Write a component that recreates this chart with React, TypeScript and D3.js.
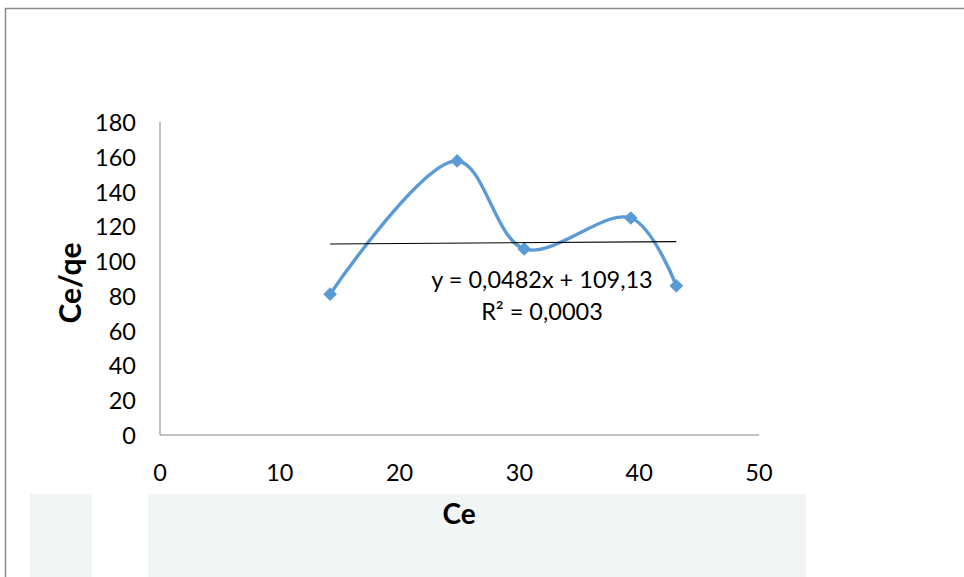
import React from "react";
import * as d3 from "d3";

const ceValues = [14.2, 24.8, 30.4, 39.3, 43.1];
const ceQeValues = [81, 157.6, 107, 124.8, 85.8];
const xTicks = [0, 10, 20, 30, 40, 50];
const yTicks = [0, 20, 40, 60, 80, 100, 120, 140, 160, 180];
const trendSlope = 0.0482;
const trendIntercept = 109.13;
const equationText = "y = 0,0482x + 109,13";
const r2Text = "R² = 0,0003";
const xTitle = "Ce";
const yTitle = "Ce/qe";

const W = 964;
const H = 577;
const FONT = "Lato, 'Open Sans', sans-serif";

export default function App() {
  const x = d3.scaleLinear().domain([0, 50]).range([160, 759]);
  const y = d3.scaleLinear().domain([0, 180]).range([435, 122]);
  const pts = ceValues.map((v, i) => [v, ceQeValues[i]] as [number, number]);
  const line = d3
    .line<[number, number]>()
    .x((d) => x(d[0]))
    .y((d) => y(d[1]))
    .curve(d3.curveCatmullRom.alpha(0.5));
  const xMin = d3.min(ceValues)!;
  const xMax = d3.max(ceValues)!;
  const diamond = d3.symbol().type(d3.symbolDiamond2).size(120)();

  return (
    <svg
      width={W}
      height={H}
      style={{ position: "absolute", left: 0, top: 0, background: "#fff" }}
    >
      <rect x={0} y={0} width={W} height={H} fill="#ffffff" />
      {/* faint background band */}
      <rect x={30} y={494} width={62} height={83} fill="#f1f5f3" />
      <rect x={148} y={494} width={658} height={83} fill="#f1f5f3" />
      {/* frame */}
      <path d={`M5.5,${H} V8.5 H${W}`} fill="none" stroke="#8c8c8c" strokeWidth={1.5} />

      {/* axes */}
      <line x1={x(0)} x2={x(0)} y1={y(180)} y2={y(0)} stroke="#868686" strokeWidth={1} />
      <line x1={x(0)} x2={x(50)} y1={y(0)} y2={y(0)} stroke="#868686" strokeWidth={1} />

      {yTicks.map((t) => (
        <text
          key={"y" + t}
          x={136}
          y={y(t)}
          textAnchor="end"
          dominantBaseline="central"
          fontFamily={FONT}
          fontSize={23.5}
          fill="#000"
        >
          {t}
        </text>
      ))}
      {xTicks.map((t) => (
        <text
          key={"x" + t}
          x={x(t)}
          y={472}
          textAnchor="middle"
          dominantBaseline="central"
          fontFamily={FONT}
          fontSize={23.5}
          fill="#000"
        >
          {t}
        </text>
      ))}

      <text
        x={459}
        y={513}
        textAnchor="middle"
        dominantBaseline="central"
        fontFamily={FONT}
        fontWeight="bold"
        fontSize={28}
        fill="#000"
      >
        {xTitle}
      </text>
      <text
        transform={`translate(69,283) rotate(-90)`}
        textAnchor="middle"
        dominantBaseline="central"
        fontFamily={FONT}
        fontWeight="bold"
        fontSize={30}
        fill="#000"
      >
        {yTitle}
      </text>

      {/* series */}
      <path d={line(pts) || ""} fill="none" stroke="#5b9bd5" strokeWidth={3.4} strokeLinejoin="round" />
      {pts.map((p, i) => (
        <path key={i} d={diamond || ""} transform={`translate(${x(p[0])},${y(p[1])})`} fill="#5b9bd5" />
      ))}

      {/* trendline */}
      <line
        x1={x(xMin)}
        x2={x(xMax)}
        y1={y(trendSlope * xMin + trendIntercept)}
        y2={y(trendSlope * xMax + trendIntercept)}
        stroke="#000"
        strokeWidth={1.1}
      />
      <text x={542} y={279} textAnchor="middle" dominantBaseline="central" fontFamily={FONT} fontSize={23.5} fill="#000">
        {equationText}
      </text>
      <text x={542} y={311} textAnchor="middle" dominantBaseline="central" fontFamily={FONT} fontSize={23.5} fill="#000">
        {r2Text}
      </text>
    </svg>
  );
}
